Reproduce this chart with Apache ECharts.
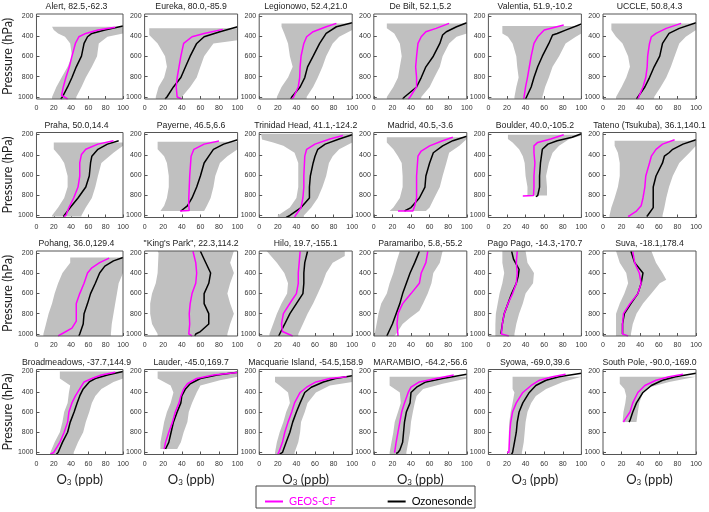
<!DOCTYPE html>
<html><head><meta charset="utf-8">
<script src="https://cdn.jsdelivr.net/npm/echarts@6/dist/echarts.min.js"></script>
<style>html,body{margin:0;padding:0;background:#fff}#c{width:709px;height:512px}</style>
</head><body><div id="c"></div>
<script>
const stations = [
  "Alert, 82.5,-62.3", "Eureka, 80.0,-85.9", "Legionowo, 52.4,21.0", "De Bilt, 52.1,5.2", "Valentia, 51.9,-10.2", "UCCLE, 50.8,4.3",
  "Praha, 50.0,14.4", "Payerne, 46.5,6.6", "Trinidad Head, 41.1,-124.2", "Madrid, 40.5,-3.6", "Boulder, 40.0,-105.2", "Tateno (Tsukuba), 36.1,140.1",
  "Pohang, 36.0,129.4", "\"King's Park\", 22.3,114.2", "Hilo, 19.7,-155.1", "Paramaribo, 5.8,-55.2", "Pago Pago, -14.3,-170.7", "Suva, -18.1,178.4",
  "Broadmeadows, -37.7,144.9", "Lauder, -45.0,169.7", "Macquarie Island, -54.5,158.9", "MARAMBIO, -64.2,-56.6", "Syowa, -69.0,39.6", "South Pole, -90.0,-169.0"
];
const xTicks = [0, 20, 40, 60, 80, 100];
const yTicks = [200, 400, 600, 800, 1000];

// each curve: [O3 ppb, pressure hPa]
const bandLo = [
  [[18,306],[20,339],[25,372],[33,405],[39,471],[41,597],[36,702],[29,808],[23,901],[18,1000],[18,1020]],
  [[5,322],[5,388],[14,471],[22,597],[24,702],[21,808],[15,901],[12,1000],[12,1020]],
  [[24,273],[24,306],[27,372],[31,471],[33,597],[36,702],[31,808],[24,901],[19,1000],[19,1020]],
  [[14,273],[14,322],[22,372],[28,471],[30,597],[28,702],[26,808],[21,901],[14,1000],[14,1020]],
  [[15,299],[15,372],[21,405],[26,471],[30,597],[31,702],[32.5,808],[30,901],[28,1000],[28,1020]],
  [[9,273],[9,339],[14,405],[21,471],[27,597],[29,702],[25,808],[20,901],[14,1000],[14,1020]],
  [[20,278],[20,346],[27,414],[32,481],[36,610],[36,719],[32,827],[25,922],[18,1000],[18,1010]],
  [[14,271],[14,346],[21,414],[24,481],[26,610],[26,719],[24,827],[21,905],[17,956]],
  [[2,193],[3,250],[15,278],[26,312],[38,380],[42,481],[42,610],[42,719],[40,827],[33,922],[20,1000],[20,1020]],
  [[14,227],[14,278],[21,346],[26,414],[30,481],[31,610],[31,719],[28,827],[21,922],[17,956]],
  [[21,203],[21,244],[26,278],[33,346],[37,414],[39,481],[40,610],[42,719],[42,803]],
  [[12.5,261],[12.5,312],[16,380],[18,481],[18,610],[16,719],[12.5,827],[9,922],[7,1000],[7,1020]],
  [[39,244],[39,295],[30,397],[25,499],[21,601],[18,700],[14,799],[11,901],[8,1000],[8,1020]],
  [[14,180],[15,200],[14,397],[12,499],[8,601],[6,700],[6,799],[8,901],[14,1000],[14,1020]],
  [[8,180],[19,295],[27,397],[31,499],[30,601],[24,700],[19,799],[15,901],[11,1000],[11,1020]],
  [[28,180],[24,295],[21,397],[17,499],[14,601],[8,700],[5,799],[3,901],[1,1000],[1,1020]],
  [[15,180],[15,295],[17,397],[15,499],[12,601],[10,700],[8,799],[7.5,901],[7.5,1000],[7.5,1020]],
  [[14,180],[18,295],[25,397],[27,499],[23,601],[18,700],[14,799],[14,901],[14,1000],[14,1020]],
  [[27,200],[27,269],[39,338],[37.5,407],[36,510],[32,600],[30,700],[27,800],[21,900],[16,1000],[16,1017]],
  [[14,200],[14,269],[28,338],[31,407],[28,510],[24,600],[21,700],[19,800],[17,900],[17,966]],
  [[17,252],[17,303],[22,338],[31,407],[33,510],[29,600],[26,700],[22,800],[19,900],[17,1000],[17,1017]],
  [[17,252],[17,338],[28,407],[29,510],[26,600],[22.5,700],[21,800],[19,900],[17,1000],[17,1017]],
  [[26,252],[26,372],[28,407],[26,510],[24,600],[22.5,700],[22,800],[22,900],[22,1000],[22,1017]],
  [[18,252],[18,321],[23,372],[25,441],[24,510],[22,600],[21,700]]
];
const bandHi = [
  [[100,306],[100,372],[82,405],[72,471],[70,597],[64,702],[57,808],[52,901],[46,1000],[46,1020]],
  [[100,322],[100,440],[74,471],[64,597],[60,702],[56,808],[49,901],[40,1000],[40,1020]],
  [[100,273],[100,339],[86,405],[79,471],[72,597],[68,702],[63,808],[58,901],[51,1000],[51,1020]],
  [[100,273],[100,372],[89,405],[81,471],[74,597],[71,702],[65,808],[60,901],[51,1000],[51,1020]],
  [[100,299],[100,372],[94,405],[83,471],[76,597],[69,702],[65,808],[61,901],[58,1000],[58,1020]],
  [[100,273],[100,339],[89,405],[82,471],[77,597],[73,702],[68,808],[62,901],[55,1000],[55,1020]],
  [[100,278],[100,312],[89,380],[75,481],[71,610],[68,719],[64,827],[57,922],[52,1000],[52,1010]],
  [[100,271],[100,346],[89,414],[81,481],[76,610],[74,719],[71,827],[67,905],[64,956]],
  [[100,193],[100,278],[86,346],[79,414],[75,481],[72,610],[68,719],[63,827],[56,922],[48,1000],[48,1020]],
  [[100,227],[100,244],[92,312],[81,380],[78,481],[74,610],[71,719],[65,827],[60,922],[56,956]],
  [[100,203],[100,210],[87,244],[76,312],[69,380],[65,481],[62,610],[63,719],[63,803]],
  [[100,261],[100,312],[93,380],[82,481],[75,610],[71,719],[68,827],[66,922],[64,1000],[64,1020]],
  [[100,244],[100,397],[95,499],[93,601],[91,700],[89,799],[87,901],[86,1000],[86,1020]],
  [[96,180],[92,295],[96,397],[92,499],[89,601],[92,700],[96,799],[92,901],[89,1000],[89,1020]],
  [[92,180],[92,229],[79,295],[72,397],[68,499],[63,601],[58,700],[52,799],[47,901],[42,1000],[42,1020]],
  [[74,180],[71,295],[64,397],[62,499],[58,601],[53,700],[49,771],[39,839],[31,901],[24,1000],[22,1020]],
  [[40,180],[42,295],[49,397],[48,499],[40,601],[37,700],[33,799],[30,901],[28,1000],[28,1020]],
  [[52,180],[57,295],[64,397],[68,465],[61,499],[52,601],[43,700],[36,799],[32,901],[30,1000],[30,1020]],
  [[100,200],[100,269],[89,303],[75,372],[68,441],[64,510],[61,600],[57,700],[54,800],[48,900],[43,1000],[43,1017]],
  [[100,200],[100,252],[81,286],[60,338],[56,407],[51,510],[47.5,600],[46,700],[42,800],[39,900],[35,966]],
  [[100,252],[100,303],[76,338],[61,407],[52,510],[49,600],[45,700],[44,800],[42,900],[38,1000],[38,1017]],
  [[100,252],[100,269],[74,321],[53,372],[46,441],[44,510],[42,600],[40,700],[39,800],[37,900],[35,1000],[35,1017]],
  [[100,252],[80,303],[62,372],[51,441],[46,510],[42,600],[40,700],[39,800],[38,900],[36,1000],[36,1017]],
  [[100,252],[71,303],[50,355],[43,407],[39,510],[37.5,600],[36,700]]
];
const geoscf = [
  [[91,312],[71,339],[57,372],[49,405],[45,471],[41,597],[38,702],[34,808],[31,901],[29,983],[36,1020]],
  [[84,332],[64,372],[51,405],[42,471],[39,597],[37,702],[35,808],[34,901],[35,1000],[40,1020]],
  [[83,273],[72,306],[58,355],[51,405],[48,471],[45,597],[44,702],[43.5,808],[42,901],[37,1000],[35,1020]],
  [[81,273],[67,322],[56,355],[51,405],[47.5,471],[46,597],[45,702],[46,808],[46,901],[39,1000],[37,1020]],
  [[81,289],[60,339],[53,405],[49,471],[46,597],[44,702],[42,808],[40,901],[38,1020]],
  [[84,273],[68,322],[57,372],[52,405],[50,471],[48,597],[47.5,702],[46,808],[43,901],[37.5,1020]],
  [[89,261],[71,295],[57,346],[52,397],[50,481],[50,610],[48,719],[43,827],[37.5,922],[34,1000],[32,1010]],
  [[80,264],[64,295],[53,346],[50,414],[48.5,610],[47.5,827],[47.5,905],[48,950],[38,955]],
  [[90,210],[76,244],[60,295],[51,346],[49,414],[48,610],[48,719],[47,827],[45,922],[39,1000],[38,1020]],
  [[85,227],[74,261],[60,312],[51,363],[47.5,414],[46,610],[46,827],[44,905],[42,956],[26,956]],
  [[81,203],[67,244],[53,278],[49,312],[49,380],[50,481],[49,610],[49,719],[48.5,803],[37,807]],
  [[77,251],[64,295],[57,346],[52,414],[50,481],[46,610],[45,719],[43,827],[41,905],[36,956],[29,1000],[27,1010]],
  [[84,251],[73,295],[64,346],[59,397],[55,499],[50,601],[46,700],[46,799],[46,873],[41,942],[29,1000],[25,1020]],
  [[52,183],[55,295],[56,397],[55,499],[51,601],[49,700],[48,799],[48.5,901],[47.5,1000],[51,1020]],
  [[44,183],[43,295],[42,397],[42,499],[40,601],[35,669],[26,799],[24,901],[25,976],[36,1020]],
  [[58,183],[56,295],[51,397],[49,499],[40,601],[31,700],[26,799],[25,901],[26,1010],[26,1020]],
  [[31,183],[30,295],[31,397],[30,499],[26,601],[21,700],[17,799],[15,901],[14,1000],[22,1020]],
  [[32,183],[34,295],[39,397],[41,499],[37.5,601],[29,700],[22,799],[21,901],[21,1000],[27,1020]],
  [[91,207],[75,234],[64,269],[55,303],[50,372],[45,441],[41,510],[37.5,600],[36,700],[32,800],[27,900],[20,1000],[16,1017]],
  [[100,210],[74,234],[56,269],[46,321],[42,372],[39,441],[37,510],[33,600],[30,700],[26,800],[22.5,900],[21,966]],
  [[94,252],[76,269],[61,303],[51,355],[44,407],[38,510],[35,600],[31,700],[27.5,800],[25,900],[21,1000],[20,1017]],
  [[86,234],[67,269],[49,303],[40,355],[37,407],[33,510],[30,600],[28,700],[26,800],[24,900],[22.5,993],[22,1000]],
  [[83,228],[69,252],[55,286],[46,338],[37,407],[30,510],[26,600],[24,700],[23,800],[22.5,900],[22,1000],[20,1000]],
  [[86,228],[71,252],[57,286],[45,338],[37.5,407],[32,510],[29,600],[23,683],[22,700]]
];
const sonde = [
  [[100,299],[79,339],[64,372],[59,405],[55,471],[52,597],[46,702],[41,808],[36,901],[30,1000],[28,1020]],
  [[100,306],[81,355],[64,405],[56,471],[49,597],[44,702],[39,808],[31,901],[24,1000],[22,1020]],
  [[100,266],[83,306],[72,372],[65,471],[58,597],[52,702],[49,808],[44,901],[35,1000],[34,1020]],
  [[100,266],[89,306],[78,355],[74,388],[71,471],[64,597],[56,702],[51,808],[46,901],[33,1000],[31,1020]],
  [[100,279],[83,339],[74,372],[69,388],[65,471],[58,597],[53,702],[49,808],[46,901],[40,1020]],
  [[100,266],[82,322],[71,372],[64,471],[61,597],[55,702],[50,808],[45,901],[36,1020]],
  [[95,261],[82,295],[71,346],[64,414],[62.5,481],[61,610],[57,719],[48,827],[39,922],[32,1000],[31,1010]],
  [[100,251],[85,295],[74,346],[69,414],[64,481],[60,610],[56,719],[51,827],[46,905],[39,956]],
  [[100,203],[86,244],[71,295],[63,346],[60,414],[58,481],[55,610],[54,719],[54,827],[45,922],[33,1000],[29,1020]],
  [[100,217],[85,261],[74,312],[64,380],[60,481],[56,610],[55,719],[49,827],[40,922],[33,956]],
  [[100,193],[90,227],[74,261],[64,295],[58,346],[57,414],[56,481],[55,610],[55,719],[53,803],[51,814]],
  [[100,251],[86,295],[75,346],[71,380],[66,414],[64,481],[57,610],[54,719],[54,827],[54,922],[48,1000],[47,1010]],
  [[100,244],[89,278],[79,329],[73,397],[68,499],[62.5,601],[59,700],[55,799],[54,901],[50,1000],[49,1020]],
  [[60,183],[64,261],[71,397],[69,499],[64,601],[64,700],[69,799],[69,901],[60,976],[55,1000],[54,1020]],
  [[52,183],[49,295],[48,397],[48,499],[47,601],[40,700],[33,799],[27.5,901],[22,1000],[21,1020]],
  [[49,183],[44,295],[39,397],[35,499],[31,601],[28,700],[24,799],[20,901],[15,1000],[14,1020]],
  [[25,183],[27,261],[33,363],[32,431],[30,499],[25,601],[21,700],[17,799],[15,901],[13.5,1000]],
  [[30,183],[34,295],[43,397],[41,499],[37.5,601],[30,700],[23,799],[21,901],[21,1000]],
  [[100,200],[82,234],[68,269],[61,303],[54,372],[50,441],[47,510],[43.5,600],[39,700],[36,800],[30,900],[25,1000],[23,1017]],
  [[100,207],[78,234],[60,269],[49,321],[44,372],[40,441],[39,510],[35,600],[31,700],[28.5,800],[26,900],[22.5,966]],
  [[100,241],[82,269],[69,303],[56,355],[49,407],[44,510],[40,600],[36,700],[33,800],[29,900],[25,1000],[22,1017]],
  [[100,228],[74,269],[56,303],[46,355],[40,407],[39,510],[35,600],[33,700],[32,800],[31,900],[28,976],[26,1000],[24,1010]],
  [[100,217],[76,252],[62,286],[51,338],[44,407],[37,510],[33,600],[31,700],[30,800],[28,900],[26,1000],[25,1017]],
  [[100,217],[78,252],[64,286],[52,338],[43,407],[36,510],[32,600],[29,683],[28,700]]
];

const chart = echarts.init(document.getElementById('c'), null, {renderer: 'canvas'});
const colLeft = [30, 144.6, 259.2, 373.8, 488.4, 603];
const rowTop = [14, 132.5, 251, 369.5];
const W = 93, H = 85;
const MAG = '#ff00ff', GRAY = '#c0c0c0';
const grids = [], xAxes = [], yAxes = [], series = [], graphics = [];

stations.forEach((name, i) => {
  const r = Math.floor(i / 6), c = i % 6;
  const left = colLeft[c], top = rowTop[r];
  grids.push({left: left, top: top, width: W, height: H, show: true, borderColor: '#555', borderWidth: 1, backgroundColor: 'transparent', z: 5});
  xAxes.push({
    gridIndex: i, type: 'value', min: 0, max: 100, interval: 20,
    axisLine: {show: false}, splitLine: {show: false},
    axisTick: {inside: true, length: 3, lineStyle: {color: '#555'}},
    axisLabel: {fontSize: 7, color: '#333', margin: 6, fontFamily: 'Liberation Sans', formatter: v => String(v)},
    name: r === 3 ? '{a|O}{s|3}{a| (ppb)}' : '', nameLocation: 'middle', nameGap: 16,
    nameTextStyle: {rich: {
      a: {fontSize: 13, fontFamily: 'Lato', color: '#222', lineHeight: 16, verticalAlign: 'bottom'},
      s: {fontSize: 8, fontFamily: 'Lato', color: '#222', lineHeight: 12, verticalAlign: 'bottom', padding: [4, 0, 0, 0]}
    }}
  });
  yAxes.push({
    gridIndex: i, type: 'value', min: 180, max: 1020, inverse: true,
    axisLine: {show: false}, splitLine: {show: false},
    axisTick: {inside: true, length: 3, lineStyle: {color: '#555'}, customValues: yTicks},
    axisLabel: {fontSize: 7, color: '#333', margin: 3, fontFamily: 'Liberation Sans', customValues: yTicks, formatter: v => String(v)},
    name: c === 0 ? 'Pressure (hPa)' : '', nameLocation: 'middle', nameGap: 16, nameRotate: 90,
    nameTextStyle: {fontSize: 12.5, fontFamily: 'Lato', color: '#222'}
  });
  const lo = bandLo[i], hi = bandHi[i];
  series.push({
    type: 'custom', xAxisIndex: i, yAxisIndex: i, silent: true, z: 1,
    data: [lo[0]],
    renderItem: function (params, api) {
      const pts = lo.map(d => api.coord(d)).concat(hi.slice().reverse().map(d => api.coord(d)));
      return {type: 'polygon', shape: {points: pts}, style: {fill: GRAY, stroke: null}};
    }
  });
  series.push({
    name: 'Ozonesonde', type: 'line', xAxisIndex: i, yAxisIndex: i, data: sonde[i],
    symbol: 'none', showSymbol: false, z: 3, clip: true,
    lineStyle: {color: '#000', width: 1.5}, itemStyle: {color: '#000'}
  });
  series.push({
    name: 'GEOS-CF', type: 'line', xAxisIndex: i, yAxisIndex: i, data: geoscf[i],
    symbol: 'none', showSymbol: false, z: 4, clip: true,
    lineStyle: {color: MAG, width: 1.5}, itemStyle: {color: MAG}
  });
  graphics.push({
    type: 'text', x: left + W / 2, y: top - 11.5,
    style: {text: name, textAlign: 'center', fontSize: 8.7, fontFamily: 'Liberation Sans', fill: '#222'}
  });
});

graphics.push({
  type: 'rect', shape: {x: 256, y: 486, width: 219, height: 22},
  style: {fill: 'none', stroke: '#444', lineWidth: 1}
});

chart.setOption({
  animation: false,
  grid: grids, xAxis: xAxes, yAxis: yAxes, series: series, graphic: graphics,
  legend: {
    left: 265, top: 496, itemWidth: 18, itemHeight: 2, itemGap: 52, padding: 0,
    textStyle: {fontSize: 11, fontFamily: 'Lato', padding: [0, 0, 0, 1]},
    data: [
      {name: 'GEOS-CF', icon: 'rect', textStyle: {color: MAG}},
      {name: 'Ozonesonde', icon: 'rect', textStyle: {color: '#000'}}
    ]
  }
});
</script>
</body></html>
